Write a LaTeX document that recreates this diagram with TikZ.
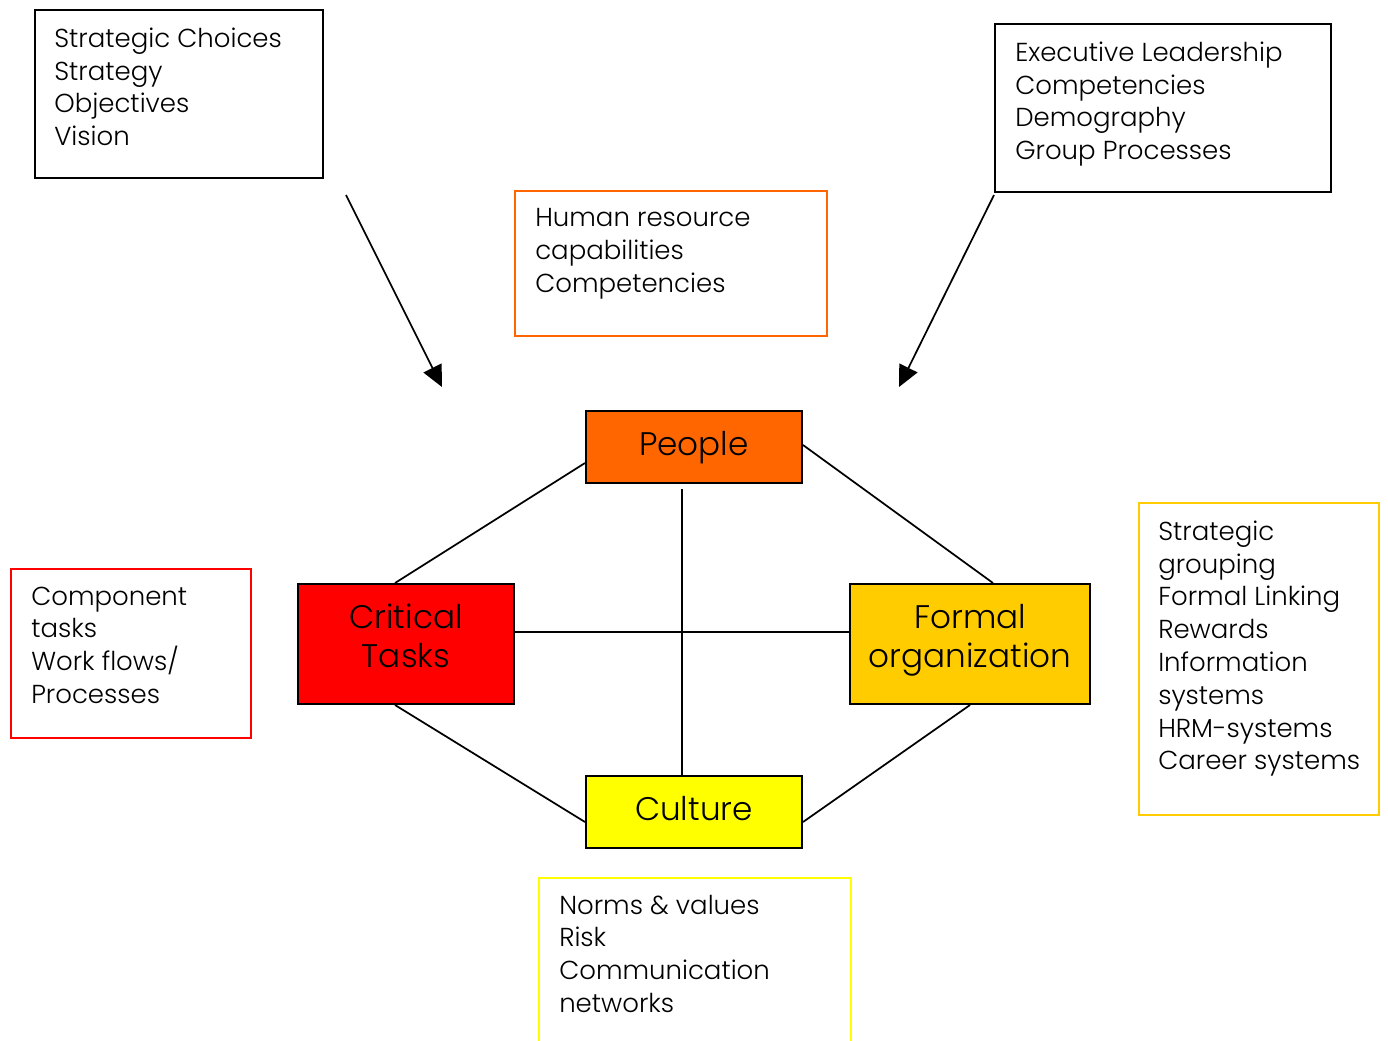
\documentclass[tikz,border=0pt]{standalone}
\usepackage{fontspec}
\setmainfont{Poppins Light}
\usetikzlibrary{arrows.meta,calc}
\definecolor{peopleorange}{HTML}{FF6600}
\definecolor{taskred}{HTML}{FF0000}
\definecolor{formalgold}{HTML}{FFCC00}
\definecolor{cultureyellow}{HTML}{FFFF00}
\tikzset{
  frame/.style={draw, line width=1.5pt, anchor=north west, inner sep=0pt},
  listtext/.style={anchor=north west, align=left, inner sep=0pt,
    font=\fontsize{19.5}{24.6}\selectfont},
  core/.style={draw, line width=1.5pt, inner sep=0pt},
  corelabel/.style={inner sep=0pt, align=center,
    font=\fontsize{24.5}{29}\selectfont},
  link/.style={line width=1.3pt},
  pointer/.style={line width=1.3pt, -{Triangle[length=16pt,width=15pt]}}
}
\begin{document}
\begin{tikzpicture}[x=0.75pt,y=-0.75pt]
\useasboundingbox (0,0) rectangle (1388,1040);

% framed lists of factors
\node[frame, minimum width=288*0.75pt, minimum height=168*0.75pt] (strat) at (34,9) {};
\node[listtext] (strattxt) at (54,27.5) {Strategic Choices\\Strategy\\Objectives\\Vision};

\node[frame, minimum width=336*0.75pt, minimum height=168*0.75pt] (exec) at (994,23) {};
\node[listtext] (exectxt) at (1015,41.5) {Executive Leadership\\Competencies\\Demography\\Group Processes};

\node[frame, draw=peopleorange, line width=1.3pt, minimum width=312*0.75pt, minimum height=145*0.75pt] (hr) at (514,190) {};
\node[listtext] (hrtxt) at (535,208.5) {Human resource\\capabilities\\Competencies};

\node[frame, draw=taskred, line width=1.3pt, minimum width=240*0.75pt, minimum height=169*0.75pt] (comp) at (10,568) {};
\node[listtext] (comptxt) at (31,586.5) {Component\\tasks\\Work flows/\\Processes};

\node[frame, draw=formalgold, line width=1.3pt, minimum width=240*0.75pt, minimum height=312*0.75pt] (group) at (1138,502) {};
\node[listtext] (grouptxt) at (1158,520.5) {Strategic\\grouping\\Formal Linking\\Rewards\\Information\\systems\\HRM-systems\\Career systems};

\node[frame, draw=cultureyellow, line width=1.3pt, minimum width=312*0.75pt, minimum height=180*0.75pt] (norms) at (538,877) {};
\node[listtext] (normstxt) at (559,894.5) {Norms \& values\\Risk\\Communication\\networks};

% the four core components
\node[core, fill=peopleorange, minimum width=216*0.75pt, minimum height=72*0.75pt] (people) at (694,447) {};
\node[core, fill=taskred, minimum width=216*0.75pt, minimum height=120*0.75pt] (tasks) at (406,644) {};
\node[core, fill=formalgold, minimum width=240*0.75pt, minimum height=120*0.75pt] (formal) at (970,644) {};
\node[core, fill=cultureyellow, minimum width=216*0.75pt, minimum height=72*0.75pt] (culture) at (694,812) {};

\node[corelabel] (peoplelbl) at (694,448) {People};
\node[corelabel] (taskslbl) at (406,636) {Critical\\Tasks};
\node[corelabel] (formallbl) at (970,640.5) {Formal\\organization};
\node[corelabel] (culturelbl) at (694,809) {Culture};

% links between the components
\draw[link] ($(people.west)+(0,16)$) -- ($(tasks.north)+(-11,0)$);
\draw[link] ($(people.east)+(0,-2)$) -- ($(formal.north)+(23,0)$);
\draw[link] ($(people.south)+(-12,5)$) -- ($(culture.north)+(-12,0)$);
\draw[link] ($(tasks.east)+(0,-12)$) -- ($(formal.west)+(0,-12)$);
\draw[link] ($(tasks.south)+(-11,0)$) -- ($(culture.west)+(0,10)$);
\draw[link] (formal.south) -- ($(culture.east)+(0,10)$);

% inputs from strategy and leadership
\coordinate (lstart) at (346,195);
\coordinate (lend) at (442,387);
\coordinate (rstart) at (994,195);
\coordinate (rend) at (899,387);
\draw[pointer] (lstart) -- (lend);
\draw[pointer] (rstart) -- (rend);
\end{tikzpicture}
\end{document}
